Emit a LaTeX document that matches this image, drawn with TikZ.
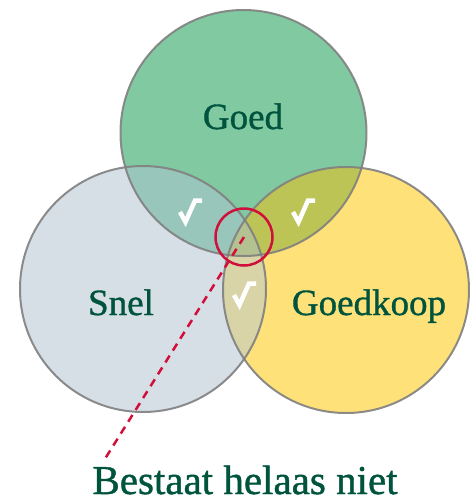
\documentclass[tikz,border=0pt]{standalone}
\usepackage{fontspec}
\setmainfont{Liberation Serif}[FakeBold=1]
\definecolor{cgreen}{RGB}{128,201,161}
\definecolor{cgrey}{RGB}{214,222,230}
\definecolor{cyellow}{RGB}{255,225,122}
\definecolor{ctl}{RGB}{152,198,186}
\definecolor{ctr}{RGB}{189,196,86}
\definecolor{clr}{RGB}{216,212,168}
\definecolor{cmid}{RGB}{180,194,146}
\definecolor{ctext}{RGB}{0,84,62}
\definecolor{cred}{RGB}{208,16,58}
\definecolor{cedge}{RGB}{128,128,128}
\tikzset{
  setcircle/.style={circle, inner sep=0pt, minimum size=246pt},
  edge/.style={draw=cedge, line width=2pt, draw opacity=0.9},
  lbl/.style={text=ctext, font=\fontsize{37}{40}\selectfont, anchor=base, inner sep=0pt},
  checkmark/.style={draw=white, line width=4.5pt, line join=miter, line cap=butt},
}
\begin{document}
\begin{tikzpicture}[x=1pt,y=-1pt]
\useasboundingbox (0,0) rectangle (475,504);
% circles as nodes
\node[setcircle, fill=cgreen] (goed) at (243.5,133) {};
\node[setcircle, fill=cgrey] (snel) at (143,289) {};
\node[setcircle, fill=cyellow] (goedkoop) at (346,290) {};
% overlaps
\begin{scope}
  \clip (goed.center) circle (123);
  \fill[ctl] (snel.center) circle (123);
  \fill[ctr] (goedkoop.center) circle (123);
  \clip (snel.center) circle (123);
  \fill[cmid] (goedkoop.center) circle (123);
\end{scope}
\begin{scope}
  \clip (snel.center) circle (123);
  \clip (goedkoop.center) circle (123);
  \begin{scope}[even odd rule]
    \clip (0,0) rectangle (475,504) (goed.center) circle (123);
    \fill[clr] (goedkoop.center) circle (123);
  \end{scope}
\end{scope}
% outlines
\draw[edge] (goed.center) circle (123);
\draw[edge] (snel.center) circle (123);
\draw[edge] (goedkoop.center) circle (123);
% labels
\node[lbl] (tgoed) at (243,129) {Goed};
\node[lbl] (tsnel) at (121,315) {Snel};
\node[lbl] (tgoedkoop) at (369,315) {Goedkoop};
% check marks
\foreach \cx/\cy in {190/211, 303/211, 244/294} {
  \draw[checkmark] (\cx-10,\cy+1) -- (\cx-4.5,\cy+11) -- (\cx+5,\cy-10.5) -- (\cx+12,\cy-10.5);
}
% red ring and dashed pointer
\node[circle, draw=cred, line width=2.5pt, minimum size=57pt, inner sep=0pt] (ring) at (244,237) {};
\coordinate (tip) at (103,462);
\draw[cred, line width=2.5pt, dash pattern=on 8pt off 6pt] (ring.center) -- (tip);
\node[lbl, font=\fontsize{41}{44}\selectfont] (tnot) at (245,494) {Bestaat helaas niet};
\end{tikzpicture}
\end{document}
